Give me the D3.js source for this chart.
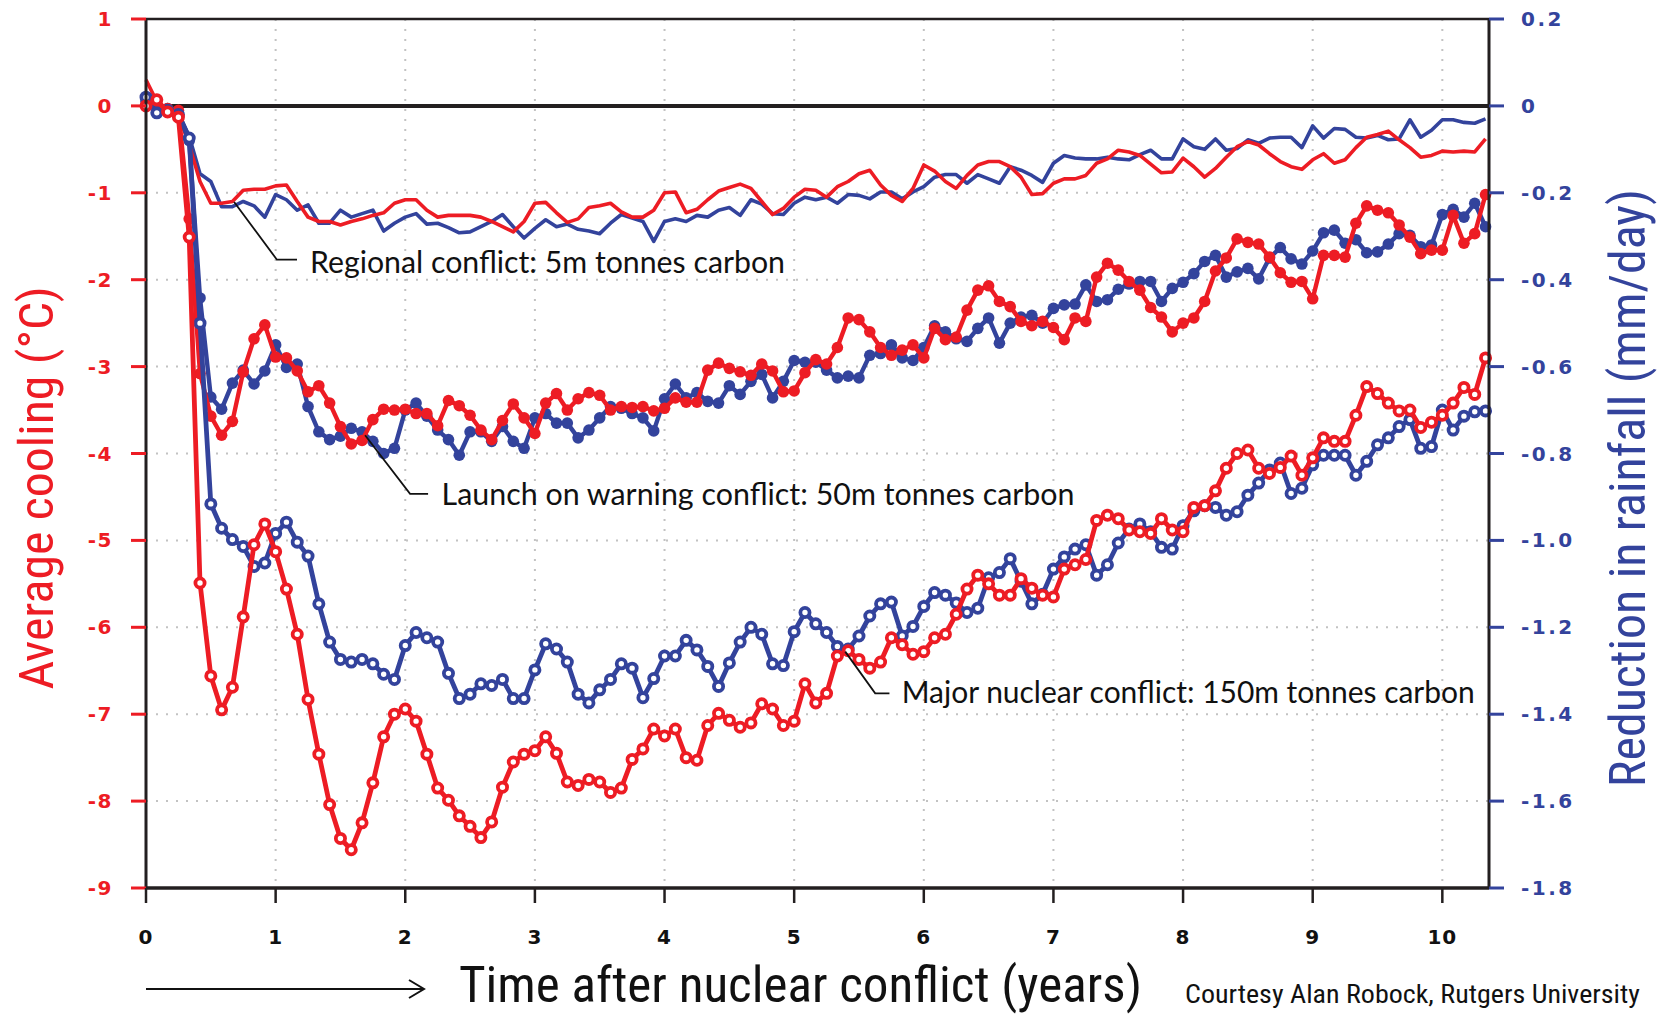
<!DOCTYPE html>
<html><head><meta charset="utf-8">
<script src="https://cdn.jsdelivr.net/npm/d3@7"></script>
<style>body{margin:0;background:#fff}svg{display:block}</style>
</head><body>
<svg id="c" width="1662" height="1015"></svg>
<script>
// ---------- data ----------
const months = d3.range(125); // monthly values, 0..124 months after conflict
const yearTicks = [0,1,2,3,4,5,6,7,8,9,10];
const coolingTicks = [1,0,-1,-2,-3,-4,-5,-6,-7,-8,-9];
const rainTicks = [0.2,0,-0.2,-0.4,-0.6,-0.8,-1.0,-1.2,-1.4,-1.6,-1.8];
const rainTickLabels = ["0.2","0","-0.2","-0.4","-0.6","-0.8","-1.0","-1.2","-1.4","-1.6","-1.8"];

// Average cooling (°C) – red, left axis
const regionalTemp = [0.3,0.05,-0.05,-0.1,-0.45,-0.87,-1.12,-1.12,-1.1,-0.97,
-0.96,-0.96,-0.92,-0.91,-1.1,-1.28,-1.33,-1.33,-1.37,-1.33,
-1.3,-1.26,-1.23,-1.12,-1.08,-1.08,-1.2,-1.28,-1.26,-1.26,
-1.26,-1.28,-1.33,-1.39,-1.45,-1.33,-1.12,-1.11,-1.23,-1.34,
-1.3,-1.17,-1.15,-1.12,-1.22,-1.28,-1.28,-1.2,-1.0,-0.99,
-1.23,-1.19,-1.08,-0.98,-0.94,-0.9,-0.95,-1.1,-1.25,-1.18,
-1.05,-0.96,-0.97,-1.05,-0.93,-0.87,-0.78,-0.74,-0.91,-1.03,
-1.1,-0.95,-0.68,-0.75,-0.87,-0.95,-0.8,-0.68,-0.64,-0.64,
-0.7,-0.82,-1.02,-1.01,-0.89,-0.84,-0.84,-0.8,-0.66,-0.61,
-0.51,-0.53,-0.57,-0.67,-0.77,-0.76,-0.6,-0.7,-0.82,-0.72,
-0.59,-0.47,-0.41,-0.45,-0.55,-0.64,-0.7,-0.73,-0.62,-0.55,
-0.66,-0.62,-0.48,-0.36,-0.33,-0.29,-0.39,-0.48,-0.59,-0.57,
-0.52,-0.53,-0.52,-0.53,-0.38];
const launchTemp = [0,0.02,-0.03,-0.05,-1.3,-3.08,-3.57,-3.79,-3.63,-3.06,
-2.68,-2.52,-2.89,-2.9,-3.05,-3.29,-3.22,-3.42,-3.69,-3.89,
-3.85,-3.61,-3.49,-3.5,-3.49,-3.54,-3.54,-3.68,-3.39,-3.45,
-3.56,-3.73,-3.84,-3.62,-3.43,-3.59,-3.77,-3.42,-3.31,-3.5,
-3.37,-3.3,-3.33,-3.5,-3.46,-3.47,-3.46,-3.51,-3.48,-3.36,
-3.41,-3.41,-3.04,-2.96,-3.02,-3.06,-3.1,-2.97,-3.05,-3.29,
-3.28,-3.07,-2.92,-2.97,-2.78,-2.44,-2.46,-2.6,-2.78,-2.87,
-2.81,-2.75,-2.9,-2.56,-2.69,-2.66,-2.35,-2.12,-2.07,-2.25,
-2.31,-2.48,-2.53,-2.48,-2.55,-2.69,-2.44,-2.48,-1.97,-1.81,
-1.89,-2.02,-2.12,-2.32,-2.43,-2.6,-2.5,-2.44,-2.25,-1.9,
-1.75,-1.53,-1.57,-1.59,-1.74,-1.92,-2.03,-2.02,-2.22,-1.72,
-1.72,-1.74,-1.35,-1.15,-1.2,-1.23,-1.37,-1.51,-1.7,-1.66,
-1.66,-1.26,-1.58,-1.47,-1.02];
const majorTemp = [0,0.07,-0.07,-0.13,-1.51,-5.49,-6.56,-6.95,-6.69,-5.88,
-5.05,-4.81,-5.13,-5.56,-6.08,-6.83,-7.46,-8.04,-8.43,-8.56,
-8.25,-7.79,-7.26,-7.0,-6.94,-7.08,-7.46,-7.85,-7.99,-8.17,
-8.29,-8.42,-8.24,-7.84,-7.55,-7.46,-7.42,-7.26,-7.45,-7.78,
-7.82,-7.75,-7.78,-7.9,-7.85,-7.52,-7.4,-7.17,-7.25,-7.17,
-7.5,-7.53,-7.13,-6.99,-7.07,-7.15,-7.1,-6.88,-6.94,-7.13,
-7.08,-6.65,-6.87,-6.76,-6.33,-6.27,-6.37,-6.47,-6.4,-6.12,
-6.2,-6.31,-6.28,-6.12,-6.08,-5.85,-5.56,-5.4,-5.5,-5.63,
-5.63,-5.44,-5.55,-5.63,-5.65,-5.33,-5.28,-5.22,-4.77,-4.71,
-4.75,-4.88,-4.9,-4.92,-4.75,-4.88,-4.9,-4.62,-4.6,-4.43,
-4.17,-4.0,-3.96,-4.17,-4.23,-4.16,-4.03,-4.25,-4.05,-3.82,
-3.86,-3.86,-3.56,-3.23,-3.31,-3.42,-3.51,-3.5,-3.7,-3.64,
-3.56,-3.42,-3.24,-3.32,-2.9];

// Reduction in rainfall (mm/day) – blue, right axis
const regionalRain = [0.024,-0.01,-0.01,-0.016,-0.07,-0.156,-0.174,-0.232,-0.232,-0.22,
-0.23,-0.256,-0.204,-0.216,-0.24,-0.228,-0.27,-0.27,-0.24,-0.256,
-0.248,-0.24,-0.288,-0.27,-0.256,-0.248,-0.272,-0.27,-0.28,-0.292,
-0.29,-0.278,-0.266,-0.25,-0.278,-0.304,-0.282,-0.262,-0.278,-0.272,
-0.284,-0.288,-0.294,-0.27,-0.25,-0.258,-0.266,-0.312,-0.266,-0.26,
-0.266,-0.252,-0.256,-0.24,-0.234,-0.252,-0.216,-0.226,-0.248,-0.25,
-0.224,-0.21,-0.216,-0.21,-0.224,-0.204,-0.206,-0.214,-0.198,-0.198,
-0.214,-0.198,-0.186,-0.164,-0.158,-0.158,-0.178,-0.158,-0.168,-0.178,
-0.14,-0.148,-0.16,-0.176,-0.132,-0.114,-0.12,-0.122,-0.122,-0.118,
-0.122,-0.124,-0.112,-0.102,-0.122,-0.122,-0.076,-0.094,-0.1,-0.076,
-0.102,-0.098,-0.078,-0.086,-0.074,-0.072,-0.072,-0.096,-0.046,-0.074,
-0.052,-0.054,-0.072,-0.074,-0.068,-0.078,-0.076,-0.032,-0.072,-0.056,
-0.032,-0.032,-0.038,-0.04,-0.03];
const launchRain = [0.01,-0.004,-0.006,-0.02,-0.08,-0.442,-0.67,-0.698,-0.638,-0.608,
-0.64,-0.61,-0.55,-0.602,-0.594,-0.692,-0.75,-0.768,-0.76,-0.742,
-0.75,-0.772,-0.8,-0.788,-0.7,-0.684,-0.714,-0.746,-0.768,-0.804,
-0.75,-0.75,-0.772,-0.738,-0.772,-0.788,-0.718,-0.708,-0.73,-0.73,
-0.764,-0.746,-0.718,-0.692,-0.696,-0.708,-0.718,-0.748,-0.674,-0.64,
-0.672,-0.66,-0.68,-0.684,-0.644,-0.664,-0.634,-0.618,-0.672,-0.634,
-0.586,-0.59,-0.59,-0.608,-0.626,-0.622,-0.626,-0.574,-0.57,-0.55,
-0.58,-0.586,-0.556,-0.506,-0.52,-0.536,-0.542,-0.512,-0.488,-0.546,
-0.5,-0.486,-0.482,-0.5,-0.466,-0.458,-0.456,-0.412,-0.45,-0.446,
-0.422,-0.41,-0.404,-0.404,-0.45,-0.42,-0.406,-0.386,-0.358,-0.344,
-0.394,-0.382,-0.374,-0.398,-0.35,-0.326,-0.352,-0.364,-0.334,-0.292,
-0.286,-0.316,-0.308,-0.338,-0.336,-0.318,-0.294,-0.298,-0.324,-0.32,
-0.25,-0.238,-0.256,-0.224,-0.278];
const majorRain = [0.02,-0.016,-0.01,-0.02,-0.074,-0.5,-0.916,-0.972,-0.998,-1.014,
-1.06,-1.052,-0.984,-0.958,-1.004,-1.036,-1.146,-1.234,-1.274,-1.28,
-1.274,-1.284,-1.308,-1.32,-1.242,-1.212,-1.224,-1.234,-1.306,-1.364,
-1.354,-1.33,-1.334,-1.32,-1.364,-1.364,-1.298,-1.238,-1.25,-1.28,
-1.354,-1.374,-1.344,-1.32,-1.284,-1.294,-1.362,-1.318,-1.266,-1.266,
-1.23,-1.252,-1.29,-1.336,-1.282,-1.234,-1.2,-1.216,-1.284,-1.288,
-1.21,-1.166,-1.192,-1.212,-1.244,-1.25,-1.22,-1.174,-1.146,-1.142,
-1.22,-1.198,-1.152,-1.12,-1.126,-1.144,-1.166,-1.156,-1.086,-1.074,
-1.042,-1.094,-1.146,-1.124,-1.066,-1.038,-1.02,-1.01,-1.08,-1.056,
-1.006,-0.974,-0.962,-0.98,-1.016,-1.02,-0.966,-0.932,-0.92,-0.924,
-0.942,-0.934,-0.896,-0.868,-0.838,-0.822,-0.892,-0.88,-0.826,-0.804,
-0.804,-0.804,-0.85,-0.818,-0.78,-0.764,-0.738,-0.722,-0.788,-0.784,
-0.7,-0.746,-0.714,-0.704,-0.702];

const labelTexts = ["Regional conflict: 5m tonnes carbon",
                    "Launch on warning conflict: 50m tonnes carbon",
                    "Major nuclear conflict: 150m tonnes carbon"];
// leader line anchors in data units [years, °C]
const leaderPts = [
  [[0.68,-1.105],[1.01,-1.77],[1.165,-1.77]],
  [[1.69,-3.79],[2.037,-4.465],[2.176,-4.465]],
  [[5.394,-6.28],[5.625,-6.76],[5.735,-6.76]]
];
const labelAnchor = [[1.265,-1.92],[2.28,-4.59],[5.83,-6.87]];
const labelWidths = [475,633,573];

// ---------- drawing ----------
const RED = "#ed1c24", BLUE = "#33439c", DARK = "#231f20";
const svg = d3.select("#c");
const L = 146, R = 1489, T = 19, B = 888;
const x = d3.scaleLinear().domain([0, 10.36]).range([L, R]);
const yL = d3.scaleLinear().domain([-9, 1]).range([B, T]);
const yR = d3.scaleLinear().domain([-1.8, 0.2]).range([B, T]);
const tOf = m => m / 12;

// grid
const g = svg.append("g");
g.selectAll("line.h").data(d3.range(-8, 1)).join("line")
  .attr("x1", L).attr("x2", R).attr("y1", d => yL(d)).attr("y2", d => yL(d))
  .attr("stroke", "#c2c2c2").attr("stroke-width", 2).attr("stroke-dasharray", "2,8");
g.selectAll("line.v").data(yearTicks.slice(1)).join("line")
  .attr("y1", T).attr("y2", B).attr("x1", d => x(d)).attr("x2", d => x(d))
  .attr("stroke", "#c2c2c2").attr("stroke-width", 2).attr("stroke-dasharray", "2,8");

// zero line
svg.append("line").attr("x1", L).attr("x2", R).attr("y1", yL(0)).attr("y2", yL(0))
  .attr("stroke", DARK).attr("stroke-width", 4);

function series(vals, yScale, color, lw, marker) {
  const pts = months.map(m => [x(tOf(m)), yScale(vals[m])]);
  const gg = svg.append("g");
  gg.append("path").attr("d", d3.line()(pts)).attr("fill", "none")
    .attr("stroke", color).attr("stroke-width", lw).attr("stroke-linejoin", "round");
  if (marker === "filled") {
    gg.selectAll("circle").data(pts).join("circle")
      .attr("cx", d => d[0]).attr("cy", d => d[1]).attr("r", 5.8).attr("fill", color);
  } else if (marker === "open") {
    gg.selectAll("circle").data(pts).join("circle")
      .attr("cx", d => d[0]).attr("cy", d => d[1]).attr("r", 4.6)
      .attr("fill", "#fff").attr("stroke", color).attr("stroke-width", 3.8);
  }
}
series(regionalRain, yR, BLUE, 3.6, null);
series(regionalTemp, yL, RED, 3.6, null);
series(launchRain, yR, BLUE, 4.4, "filled");
series(launchTemp, yL, RED, 4.4, "filled");
series(majorRain, yR, BLUE, 4.8, "open");
series(majorTemp, yL, RED, 4.8, "open");

// frame
svg.append("line").attr("x1", L).attr("x2", R).attr("y1", T).attr("y2", T).attr("stroke", DARK).attr("stroke-width", 2.5);
svg.append("line").attr("x1", L).attr("x2", R).attr("y1", B).attr("y2", B).attr("stroke", DARK).attr("stroke-width", 3.5);
svg.append("line").attr("x1", L).attr("x2", L).attr("y1", T).attr("y2", B).attr("stroke", DARK).attr("stroke-width", 3);
svg.append("line").attr("x1", R).attr("x2", R).attr("y1", T).attr("y2", B).attr("stroke", DARK).attr("stroke-width", 3);

const tickFont = "'DejaVu Sans', Verdana, sans-serif";
// left axis ticks
svg.selectAll("line.lt").data(coolingTicks).join("line")
  .attr("x1", L - 15).attr("x2", L).attr("y1", d => yL(d)).attr("y2", d => yL(d))
  .attr("stroke", RED).attr("stroke-width", 3);
svg.selectAll("text.lt").data(coolingTicks).join("text")
  .attr("x", 113).attr("y", d => yL(d) + 7).attr("text-anchor", "end")
  .attr("font-family", tickFont).attr("font-weight", "bold").attr("font-size", 20)
  .attr("letter-spacing", 1.5).attr("fill", RED).text(d => String(d));
// right axis ticks
svg.selectAll("line.rt").data(rainTicks).join("line")
  .attr("x1", R).attr("x2", R + 15).attr("y1", d => yR(d)).attr("y2", d => yR(d))
  .attr("stroke", BLUE).attr("stroke-width", 3);
svg.selectAll("text.rt").data(rainTicks).join("text")
  .attr("x", 1521).attr("y", d => yR(d) + 7).attr("text-anchor", "start")
  .attr("font-family", tickFont).attr("font-weight", "bold").attr("font-size", 20)
  .attr("letter-spacing", 2.5).attr("fill", BLUE).text((d, i) => rainTickLabels[i]);
// bottom ticks
svg.selectAll("line.bt").data(yearTicks).join("line")
  .attr("x1", d => x(d)).attr("x2", d => x(d)).attr("y1", B).attr("y2", B + 15)
  .attr("stroke", DARK).attr("stroke-width", 2.5);
svg.selectAll("text.bt").data(yearTicks).join("text")
  .attr("x", d => x(d)).attr("y", 944).attr("text-anchor", "middle")
  .attr("font-family", tickFont).attr("font-weight", "bold").attr("font-size", 20)
  .attr("letter-spacing", 1).attr("fill", "#111").text(d => String(d));

// axis titles
const condFont = "'Liberation Sans Narrow','Arial Narrow','Roboto Condensed','Liberation Sans',sans-serif";
svg.append("text").attr("transform", "translate(53,488) rotate(-90)")
  .attr("text-anchor", "middle").attr("font-family", condFont).attr("font-size", 48)
  .attr("fill", RED).attr("textLength", 403).attr("lengthAdjust", "spacingAndGlyphs")
  .text("Average cooling (°C)");
svg.append("text").attr("transform", "translate(1645,488) rotate(-90)")
  .attr("text-anchor", "middle").attr("font-family", condFont).attr("font-size", 50)
  .attr("fill", BLUE).attr("textLength", 598).attr("lengthAdjust", "spacingAndGlyphs")
  .text("Reduction in rainfall (mm/day)");
svg.append("text").attr("x", 459).attr("y", 1002)
  .attr("font-family", condFont).attr("font-size", 50).attr("fill", "#111")
  .attr("textLength", 683).attr("lengthAdjust", "spacingAndGlyphs")
  .text("Time after nuclear conflict (years)");
svg.append("text").attr("x", 1185).attr("y", 1003)
  .attr("font-family", condFont).attr("font-size", 25).attr("fill", "#111")
  .attr("textLength", 455).attr("lengthAdjust", "spacingAndGlyphs")
  .text("Courtesy Alan Robock, Rutgers University");

// arrow
svg.append("line").attr("x1", L).attr("x2", 424).attr("y1", 989).attr("y2", 989)
  .attr("stroke", "#111").attr("stroke-width", 2);
svg.append("path").attr("d", "M409,980 L424,989 L409,998").attr("fill", "none")
  .attr("stroke", "#111").attr("stroke-width", 2);

// annotations
const lblFont = "'Lato','Noto Sans',sans-serif";
leaderPts.forEach((pts, i) => {
  svg.append("path").attr("d", d3.line()(pts.map(p => [x(p[0]), yL(p[1])])))
    .attr("fill", "none").attr("stroke", "#111").attr("stroke-width", 1.8);
  svg.append("text").attr("x", x(labelAnchor[i][0])).attr("y", yL(labelAnchor[i][1]))
    .attr("font-family", lblFont).attr("font-size", 30).attr("fill", "#111")
    .attr("textLength", labelWidths[i]).attr("lengthAdjust", "spacingAndGlyphs")
    .text(labelTexts[i]);
});
</script>
</body></html>
